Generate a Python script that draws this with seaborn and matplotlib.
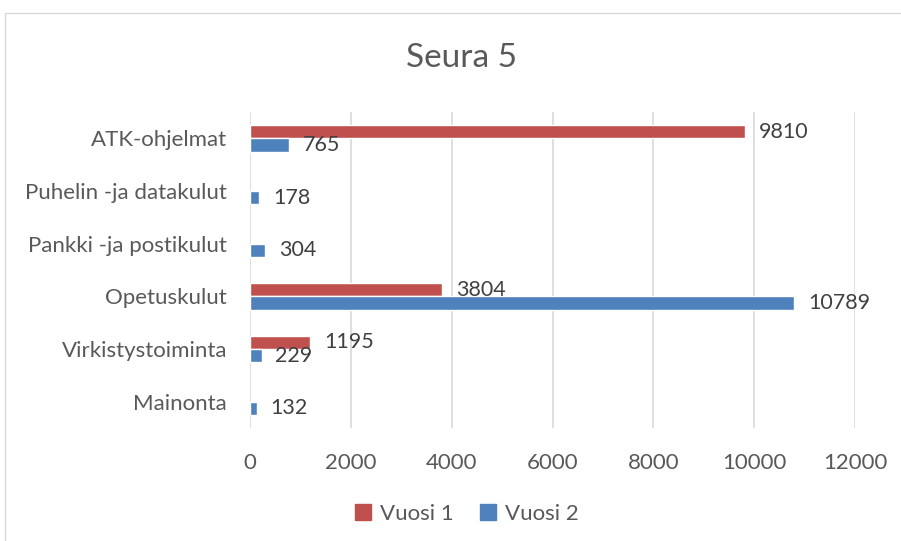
import numpy as np
import pandas as pd
import matplotlib.pyplot as plt
import seaborn as sns
from matplotlib.patches import Rectangle

categories = ['ATK-ohjelmat', 'Puhelin -ja datakulut', 'Pankki -ja postikulut',
              'Opetuskulut', 'Virkistystoiminta', 'Mainonta']
vuosi1 = [9810, np.nan, np.nan, 3804, 1195, np.nan]
vuosi2 = [765, 178, 304, 10789, 229, 132]
series = ['Vuosi 1', 'Vuosi 2']
colors = ['#C0504D', '#4F81BD']
xticks = [0, 2000, 4000, 6000, 8000, 10000, 12000]

df = pd.DataFrame({'kategoria': categories * 2,
                   'arvo': vuosi1 + vuosi2,
                   'sarja': [series[0]] * 6 + [series[1]] * 6})
df = df.dropna()

sns.set_style('white')
plt.rcParams['font.family'] = ['Lato', 'DejaVu Sans']
txt = '#595959'

fig = plt.figure(figsize=(9.01, 5.41), dpi=100)
fig.patches.append(Rectangle((5 / 901, -0.01), 1.0, 1 - 13 / 541 + 0.01,
                             transform=fig.transFigure, fill=False,
                             edgecolor='#D9D9D9', lw=1))
ax = fig.add_axes([250 / 901, 1 - 428 / 541, 605 / 901, 316 / 541])

sns.barplot(data=df, y='kategoria', x='arvo', hue='sarja', order=categories,
            hue_order=series, palette=colors, orient='h', width=0.5,
            saturation=1, ax=ax)

for c in ax.containers:
    ax.bar_label(c, fmt='%d', padding=10, fontsize=15.5, color='#404040')

ax.set_xlim(0, 12000)
ax.set_xticks(xticks)
ax.set_xticklabels([str(t) for t in xticks])
ax.grid(axis='x', color='#D9D9D9', lw=1.2)
ax.set_axisbelow(True)
for s in ax.spines.values():
    s.set_visible(False)
ax.tick_params(axis='both', length=0, labelsize=16, colors=txt)
ax.tick_params(axis='x', pad=18)
ax.tick_params(axis='y', pad=16.5)
ax.set_xlabel('')
ax.set_ylabel('')

fig.text(461 / 901, 1 - 58 / 541, 'Seura 5', ha='center', va='center',
         fontsize=24, color=txt)

ax.legend_.remove()
handles = [Rectangle((0, 0), 1, 1, color=c) for c in colors]
fig.legend(handles, series, loc='center', bbox_to_anchor=(467 / 901, 1 - 514 / 541),
           ncol=2, frameon=False, fontsize=16, labelcolor=txt,
           handlelength=0.7, handleheight=0.7, handletextpad=0.4,
           columnspacing=1.2)

fig.savefig('out.png', dpi=100)
